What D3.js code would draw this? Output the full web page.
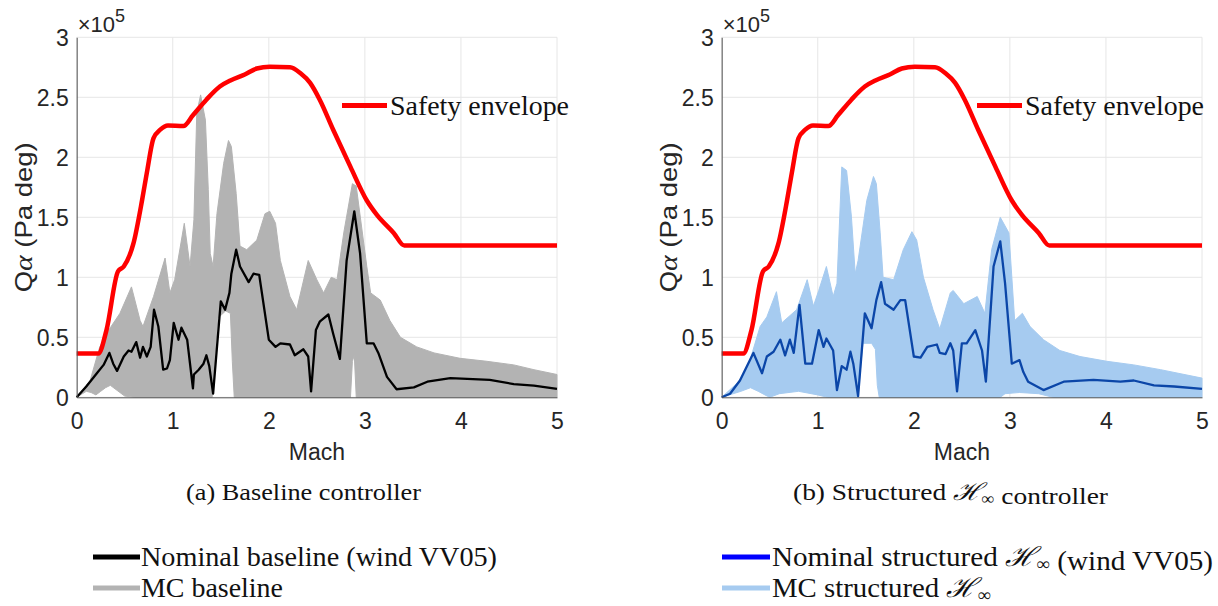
<!DOCTYPE html>
<html>
<head>
<meta charset="utf-8">
<script src="https://cdn.jsdelivr.net/npm/d3@7/dist/d3.min.js"></script>
<style>
  body { margin: 0; background: #fff; }
  svg { display: block; }
</style>
</head>
<body>
<svg id="fig" width="1218" height="606"></svg>
<script>
// ---- data (Q alpha in units of 1e5 Pa deg, against Mach) ----
const xTicks = [0, 1, 2, 3, 4, 5];
const yTicks = [0, 0.5, 1, 1.5, 2, 2.5, 3];
const yTickLabels = ["0", "0.5", "1", "1.5", "2", "2.5", "3"];

const envMach = [0, 0.225, 0.31, 0.43, 0.49, 0.59, 0.68, 0.73, 0.80, 0.87, 0.95, 1.11, 1.21, 1.35, 1.49, 1.60, 1.75, 1.875, 2.01, 2.22, 2.33, 2.43, 2.53, 2.67, 2.85, 3.02, 3.125, 3.30, 3.41, 5];
const envQ    = [0.365, 0.365, 0.56, 1.05, 1.09, 1.28, 1.64, 1.87, 2.16, 2.23, 2.265, 2.26, 2.35, 2.48, 2.59, 2.64, 2.69, 2.74, 2.755, 2.75, 2.70, 2.62, 2.48, 2.23, 1.92, 1.64, 1.52, 1.37, 1.265, 1.265];

const nomBaseMach = [0, 0.10, 0.21, 0.28, 0.34, 0.38, 0.42, 0.49, 0.54, 0.57, 0.62, 0.66, 0.69, 0.73, 0.77, 0.805, 0.85, 0.90, 0.94, 0.97, 1.01, 1.06, 1.09, 1.15, 1.21, 1.22, 1.27, 1.32, 1.35, 1.38, 1.42, 1.5, 1.545, 1.59, 1.61, 1.66, 1.70, 1.79, 1.84, 1.90, 2.0, 2.07, 2.12, 2.22, 2.27, 2.36, 2.41, 2.44, 2.49, 2.53, 2.62, 2.67, 2.74, 2.81, 2.89, 2.95, 3.02, 3.09, 3.14, 3.23, 3.33, 3.51, 3.65, 3.89, 4.3, 4.55, 4.76, 5.0];
const nomBaseQ    = [0, 0.09, 0.2, 0.27, 0.37, 0.28, 0.22, 0.34, 0.39, 0.38, 0.46, 0.33, 0.42, 0.34, 0.42, 0.73, 0.59, 0.23, 0.24, 0.31, 0.62, 0.48, 0.58, 0.48, 0.075, 0.19, 0.23, 0.28, 0.35, 0.26, 0.03, 0.8, 0.73, 0.87, 1.03, 1.23, 1.09, 0.96, 1.03, 1.02, 0.48, 0.42, 0.45, 0.44, 0.35, 0.40, 0.34, 0.05, 0.56, 0.63, 0.69, 0.53, 0.32, 1.14, 1.55, 1.2, 0.45, 0.45, 0.37, 0.17, 0.067, 0.083, 0.13, 0.16, 0.145, 0.11, 0.097, 0.07];

const mcBaseHiMach = [0, 0.14, 0.24, 0.35, 0.45, 0.57, 0.66, 0.69, 0.80, 0.92, 0.97, 1.02, 1.12, 1.18, 1.22, 1.25, 1.29, 1.34, 1.37, 1.39, 1.42, 1.46, 1.53, 1.58, 1.61, 1.66, 1.70, 1.77, 1.875, 1.96, 2.01, 2.07, 2.12, 2.22, 2.29, 2.41, 2.5, 2.57, 2.65, 2.71, 2.78, 2.87, 2.91, 3.02, 3.06, 3.16, 3.26, 3.37, 3.54, 3.72, 3.99, 4.27, 4.55, 4.76, 5.0];
const mcBaseHiQ    = [0, 0.14, 0.42, 0.58, 0.7, 0.92, 0.64, 0.59, 0.84, 1.16, 0.87, 0.98, 1.45, 1.09, 1.48, 2.37, 2.52, 2.31, 1.73, 1.2, 1.09, 1.53, 1.95, 2.14, 2.09, 1.7, 1.26, 1.23, 1.31, 1.53, 1.55, 1.45, 1.14, 0.84, 0.73, 1.14, 0.98, 0.87, 1.0, 0.98, 1.37, 1.78, 1.76, 1.09, 0.87, 0.81, 0.64, 0.5, 0.42, 0.37, 0.325, 0.3, 0.27, 0.23, 0.19];
const mcBaseLoMach = [0, 0.10, 0.15, 0.2, 0.25, 0.3, 0.35, 0.45, 0.5, 0.6, 1.41, 1.44, 1.47, 1.55, 1.6, 1.62, 1.64, 2.85, 2.87, 2.89, 2.91, 5];
const mcBaseLoQ    = [0, 0.05, 0.04, 0.02, 0.05, 0.08, 0.1, 0.04, 0.01, 0, 0, 0.35, 0.66, 0.72, 0.7, 0.3, 0, 0, 0.3, 0.35, 0, 0];

const nomHinfMach = [0, 0.087, 0.19, 0.33, 0.42, 0.47, 0.54, 0.61, 0.66, 0.71, 0.75, 0.81, 0.87, 0.94, 1.01, 1.06, 1.09, 1.16, 1.2, 1.25, 1.30, 1.34, 1.37, 1.42, 1.49, 1.56, 1.61, 1.66, 1.70, 1.79, 1.86, 1.91, 2.0, 2.07, 2.14, 2.24, 2.27, 2.33, 2.38, 2.41, 2.45, 2.5, 2.55, 2.64, 2.71, 2.75, 2.83, 2.90, 2.95, 3.02, 3.1, 3.14, 3.19, 3.35, 3.56, 3.87, 4.15, 4.29, 4.5, 4.71, 5.0];
const nomHinfQ    = [0, 0.03, 0.14, 0.37, 0.2, 0.34, 0.38, 0.48, 0.35, 0.48, 0.37, 0.77, 0.28, 0.28, 0.56, 0.42, 0.49, 0.39, 0.06, 0.26, 0.23, 0.38, 0.28, 0.01, 0.7, 0.575, 0.81, 0.96, 0.78, 0.73, 0.81, 0.81, 0.34, 0.33, 0.42, 0.44, 0.37, 0.36, 0.45, 0.39, 0.05, 0.45, 0.45, 0.56, 0.39, 0.13, 1.09, 1.30, 0.95, 0.28, 0.31, 0.21, 0.13, 0.06, 0.13, 0.145, 0.13, 0.14, 0.10, 0.09, 0.07];

const mcHinfHiMach = [0, 0.19, 0.295, 0.4, 0.47, 0.57, 0.625, 0.78, 0.89, 0.955, 1.01, 1.09, 1.16, 1.2, 1.25, 1.30, 1.35, 1.39, 1.42, 1.51, 1.58, 1.61, 1.65, 1.68, 1.79, 1.89, 1.98, 2.03, 2.1, 2.2, 2.27, 2.38, 2.41, 2.52, 2.66, 2.74, 2.81, 2.90, 2.99, 3.05, 3.13, 3.21, 3.35, 3.52, 3.73, 4.01, 4.29, 4.57, 5.0];
const mcHinfHiQ    = [0, 0.14, 0.31, 0.59, 0.67, 0.88, 0.62, 0.73, 0.98, 0.76, 0.89, 1.09, 0.84, 0.95, 1.92, 1.89, 1.51, 1.03, 1.14, 1.64, 1.84, 1.78, 1.37, 1.0, 0.98, 1.23, 1.38, 1.31, 1.0, 0.73, 0.57, 0.87, 0.89, 0.78, 0.84, 0.7, 1.23, 1.5, 1.37, 0.64, 0.7, 0.59, 0.48, 0.39, 0.34, 0.30, 0.27, 0.23, 0.16];
const mcHinfLoMach = [0, 0.2, 0.3, 0.38, 0.45, 0.5, 0.6, 0.8, 1.0, 1.1, 1.42, 1.44, 1.47, 1.56, 1.6, 1.62, 1.64, 2.9, 2.95, 3.1, 3.3, 3.45, 5];
const mcHinfLoQ    = [0, 0.05, 0.08, 0.05, 0.02, 0, 0.03, 0.05, 0.02, 0, 0, 0.2, 0.45, 0.45, 0.4, 0.1, 0, 0, 0.03, 0.04, 0.03, 0, 0];

// ---- layout ----
const plotTop = 37.3, plotBottom = 397.3, plotW = 480.3;
const sans = "'Liberation Sans', Arial, Helvetica, sans-serif";
const serif = "'Liberation Serif', 'Times New Roman', serif";

const panels = [
  {
    left: 76.7, band: [mcBaseHiMach, mcBaseHiQ, mcBaseLoMach, mcBaseLoQ], bandColor: "#b3b3b3",
    nom: [nomBaseMach, nomBaseQ], nomColor: "#000000",
    caption: "(a) Baseline controller", captionX: 186, captionW: 235,
    legend: [
      { color: "#000000", label: "Nominal baseline (wind VV05)", w: 356 },
      { color: "#b3b3b3", label: "MC baseline", w: 142 }
    ],
    legendLine: [93, 140], legendTextX: 141,
    envLegend: [342, 387, 390]
  },
  {
    left: 721.7, band: [mcHinfHiMach, mcHinfHiQ, mcHinfLoMach, mcHinfLoQ], bandColor: "#a6cbf0",
    nom: [nomHinfMach, nomHinfQ], nomColor: "#0b46a8",
    caption: "(b) Structured |H| controller", captionX: 793, captionW: 315,
    legend: [
      { color: "#0000ff", label: "Nominal structured |H| (wind VV05)", w: 441 },
      { color: "#a6cbf0", label: "MC structured |H|", w: 219 }
    ],
    legendLine: [722, 770], legendTextX: 772,
    envLegend: [977, 1022, 1025]
  }
];

const svg = d3.select("#fig");

// writes text where "|H|" stands for calligraphic H with an infinity subscript
function richText(sel, str, size) {
  const bits = str.split("|H|");
  const drop = size * 0.15;
  bits.forEach((b, i) => {
    if (b.length) sel.append("tspan").text(b);
    if (i < bits.length - 1) {
      sel.append("tspan").attr("font-family", "'DejaVu Serif', serif").attr("font-style", "italic").text("\u210B");
      sel.append("tspan").attr("font-size", size * 0.66).attr("dy", drop).text("\u221E");
      sel.append("tspan").attr("dy", -drop).text("");
    }
  });
}

function drawPanel(p) {
  const x = d3.scaleLinear().domain([0, 5]).range([p.left, p.left + plotW]);
  const y = d3.scaleLinear().domain([0, 3]).range([plotBottom, plotTop]);
  const g = svg.append("g");

  // grid
  g.append("g").selectAll("line").data(xTicks).join("line")
    .attr("x1", d => x(d)).attr("x2", d => x(d))
    .attr("y1", plotTop).attr("y2", plotBottom)
    .attr("stroke", "#e6e6e6").attr("stroke-width", 1);
  g.append("g").selectAll("line").data(yTicks).join("line")
    .attr("x1", p.left).attr("x2", p.left + plotW)
    .attr("y1", d => y(d)).attr("y2", d => y(d))
    .attr("stroke", "#e6e6e6").attr("stroke-width", 1);

  // Monte Carlo band: upper edge forward, lower edge back
  const [hiM, hiQ, loM, loQ] = p.band;
  const pts = hiM.map((m, i) => [m, hiQ[i]])
    .concat(loM.map((m, i) => [m, loQ[i]]).reverse());
  const line = d3.line().x(d => x(d[0])).y(d => y(d[1]));
  g.append("path").attr("d", line(pts) + "Z")
    .attr("fill", p.bandColor).attr("stroke", p.bandColor).attr("stroke-width", 1)
    .attr("stroke-linejoin", "round");

  // nominal
  const nomPts = p.nom[0].map((m, i) => [m, p.nom[1][i]]);
  g.append("path").attr("d", line(nomPts))
    .attr("fill", "none").attr("stroke", p.nomColor).attr("stroke-width", 2.3)
    .attr("stroke-linejoin", "round");

  // safety envelope
  const envPts = envMach.map((m, i) => [m, envQ[i]]);
  g.append("path").attr("d", line.curve(d3.curveMonotoneX)(envPts))
    .attr("fill", "none").attr("stroke", "#ff0000").attr("stroke-width", 4.5)
    .attr("stroke-linejoin", "round");
  line.curve(d3.curveLinear);

  // axes
  const xAxis = g.append("g").attr("transform", `translate(0,${plotBottom})`)
    .call(d3.axisBottom(x).tickValues(xTicks).tickSize(0).tickPadding(15).tickFormat(d3.format("d")));
  const yAxis = g.append("g").attr("transform", `translate(${p.left},0)`)
    .call(d3.axisLeft(y).tickValues(yTicks).tickSize(0).tickPadding(8).tickFormat((d, i) => yTickLabels[i]));
  [xAxis, yAxis].forEach(a => {
    a.select(".domain").attr("stroke", "#555").attr("stroke-width", 1);
    a.selectAll("text").attr("font-family", sans).attr("font-size", 23).attr("fill", "#262626");
  });
  yAxis.selectAll("text").attr("dy", "0.36em");

  // exponent
  const ex = g.append("text").attr("x", p.left + 1).attr("y", 32)
    .attr("font-family", sans).attr("font-size", 22).attr("fill", "#262626");
  ex.append("tspan").text("\u00D710");
  ex.append("tspan").attr("font-size", 18).attr("dy", -10).text("5");

  // axis labels
  g.append("text").attr("x", p.left + plotW / 2).attr("y", 460)
    .attr("text-anchor", "middle").attr("font-family", sans).attr("font-size", 23)
    .attr("fill", "#262626").text("Mach");
  const yl = g.append("text")
    .attr("transform", `translate(${p.left - 45},${(plotTop + plotBottom) / 2}) rotate(-90)`)
    .attr("text-anchor", "middle").attr("font-family", sans).attr("font-size", 24).attr("fill", "#262626")
    .attr("textLength", 150).attr("lengthAdjust", "spacingAndGlyphs");
  yl.append("tspan").text("Q");
  yl.append("tspan").attr("font-family", serif).attr("font-style", "italic").attr("font-size", 26).text("\u03B1");
  yl.append("tspan").text(" (Pa deg)");

  // safety envelope legend
  const [el1, el2, elt] = p.envLegend;
  g.append("line").attr("x1", el1).attr("x2", el2).attr("y1", 105.5).attr("y2", 105.5)
    .attr("stroke", "#ff0000").attr("stroke-width", 5);
  g.append("text").attr("x", elt).attr("y", 115)
    .attr("font-family", serif).attr("font-size", 27).attr("fill", "#111")
    .attr("textLength", 179).attr("lengthAdjust", "spacingAndGlyphs")
    .text("Safety envelope");

  // caption
  const cap = g.append("text").attr("x", p.captionX).attr("y", 500)
    .attr("font-family", serif).attr("font-size", 24).attr("fill", "#111")
    .attr("textLength", p.captionW).attr("lengthAdjust", "spacingAndGlyphs");
  richText(cap, p.caption, 24);

  // bottom legend
  p.legend.forEach((L, i) => {
    const yy = 557 + i * 31;
    g.append("line").attr("x1", p.legendLine[0]).attr("x2", p.legendLine[1])
      .attr("y1", yy).attr("y2", yy).attr("stroke", L.color).attr("stroke-width", 5);
    const t = g.append("text").attr("x", p.legendTextX).attr("y", yy + 9)
      .attr("font-family", serif).attr("font-size", 27).attr("fill", "#111")
      .attr("textLength", L.w).attr("lengthAdjust", "spacingAndGlyphs");
    richText(t, L.label, 27);
  });
}

panels.forEach(drawPanel);
</script>
</body>
</html>
